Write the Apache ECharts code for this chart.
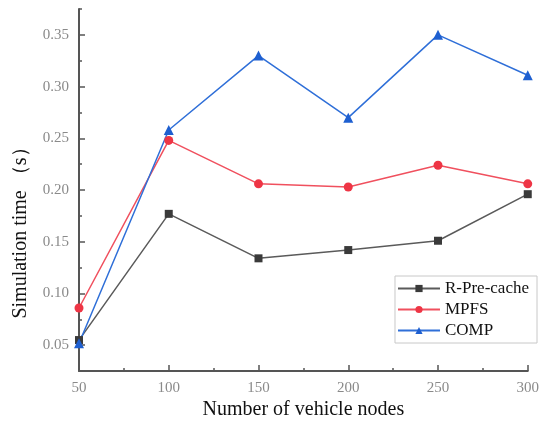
<!DOCTYPE html>
<html>
<head>
<meta charset="utf-8">
<script src="https://cdn.jsdelivr.net/npm/echarts@6/dist/echarts.min.js"></script>
<style>html,body{margin:0;padding:0;background:#fff}#c{width:542px;height:425px}</style>
</head>
<body>
<div id="c"></div>
<script>
const nodes = [50, 100, 150, 200, 250, 300];
const rPreCache = [0.055, 0.177, 0.134, 0.142, 0.151, 0.196];
const mpfs = [0.086, 0.248, 0.206, 0.203, 0.224, 0.206];
const comp = [0.052, 0.258, 0.330, 0.270, 0.350, 0.311];
const yTicks = [0.05, 0.10, 0.15, 0.20, 0.25, 0.30, 0.35];
const xTitle = 'Number of vehicle nodes';
const yTitle = 'Simulation time （s）';

const pairs = arr => nodes.map((x, i) => [x, arr[i]]);
const serif = 'Liberation Serif, Times New Roman, serif';
const axisColor = '#555';
const labelStyle = {color: '#8a8a8a', fontFamily: serif, fontSize: 15};

const chart = echarts.init(document.getElementById('c'), null, {renderer: 'canvas'});
chart.setOption({
  animation: false,
  backgroundColor: '#fff',
  grid: {left: 79, right: 12, top: 9, bottom: 49},
  legend: {
    orient: 'vertical', right: 5, top: 276,
    backgroundColor: '#fff', borderColor: '#c8c8c8', borderWidth: 1,
    padding: [4, 8, 4, 2], itemGap: 4, itemWidth: 42, itemHeight: 9,
    textStyle: {fontFamily: serif, fontSize: 17, color: '#111'},
    data: ['R-Pre-cache', 'MPFS', 'COMP']
  },
  xAxis: {
    type: 'value', min: 50, max: 300, interval: 50,
    name: xTitle, nameLocation: 'middle', nameGap: 26,
    nameTextStyle: {fontFamily: serif, fontSize: 20, color: '#111'},
    axisLine: {show: true, lineStyle: {color: axisColor, width: 2}},
    axisTick: {show: true, inside: true, length: 6, lineStyle: {color: axisColor, width: 1.5}},
    minorTick: {show: true, splitNumber: 2, length: 3, lineStyle: {color: axisColor, width: 1.5}},
    splitLine: {show: false},
    axisLabel: Object.assign({margin: 9}, labelStyle)
  },
  yAxis: [{
    type: 'value', min: 0.025, max: 0.375, interval: 0.025,
    name: yTitle, nameLocation: 'middle', nameGap: 48,
    nameTextStyle: {fontFamily: serif, fontSize: 20, color: '#111', padding: [0, 76, 0, 0]},
    axisLine: {show: true, lineStyle: {color: axisColor, width: 2}},
    axisTick: {show: true, inside: true, length: 6, customValues: yTicks, lineStyle: {color: axisColor, width: 1.5}},
    splitLine: {show: false},
    axisLabel: Object.assign({margin: 10, customValues: yTicks, formatter: v => v.toFixed(2)}, labelStyle)
  }, {
    type: 'value', min: 0.025, max: 0.375, interval: 0.025, position: 'left',
    axisLine: {show: false},
    axisTick: {show: true, inside: true, length: 3, lineStyle: {color: axisColor, width: 1.5}},
    axisLabel: {show: false}, splitLine: {show: false}
  }],
  series: [{
    name: 'R-Pre-cache', type: 'line', data: pairs(rPreCache),
    symbol: 'rect', symbolSize: 8,
    lineStyle: {color: '#5a5a5a', width: 1.5},
    itemStyle: {color: '#3a3a3a'}
  }, {
    name: 'MPFS', type: 'line', data: pairs(mpfs),
    symbol: 'circle', symbolSize: 9,
    lineStyle: {color: '#f0505e', width: 1.5},
    itemStyle: {color: '#ee3545'}
  }, {
    name: 'COMP', type: 'line', data: pairs(comp),
    symbol: 'triangle', symbolSize: 10,
    lineStyle: {color: '#2f6fd8', width: 1.5},
    itemStyle: {color: '#1e5fd0'}
  }]
});
</script>
</body>
</html>
